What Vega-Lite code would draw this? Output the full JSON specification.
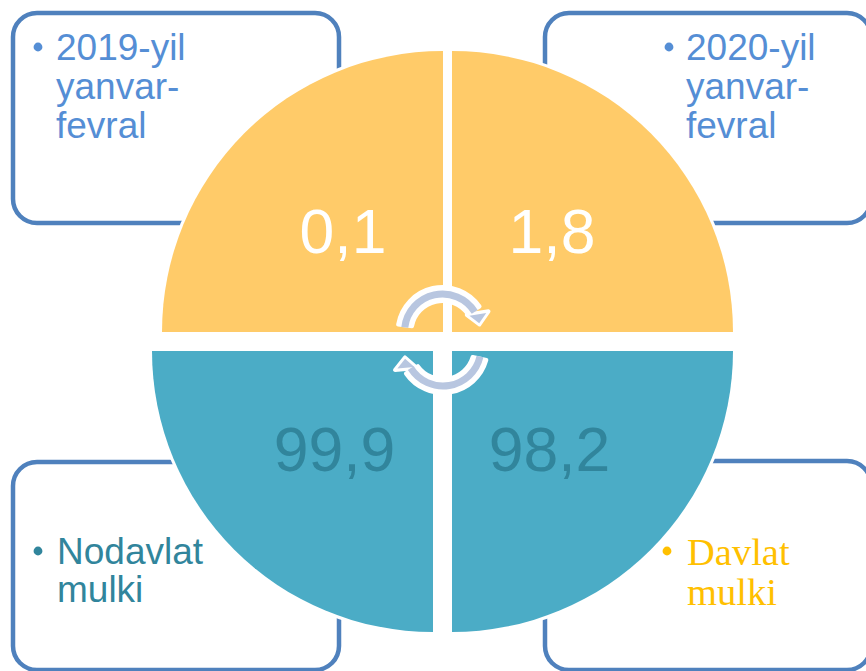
{
"$schema":"https://vega.github.io/schema/vega-lite/v6.json",
"width":866,"height":671,"padding":0,"autosize":{"type":"none"},
"background":"white",
"config":{"view":{"stroke":null}},
"datasets":{
"boxes":[
{"x":13,"x2":339,"y":13,"y2":223},
{"x":545,"x2":871,"y":13,"y2":223},
{"x":13,"x2":339,"y":462,"y2":670},
{"x":545,"x2":871,"y":461,"y2":670}],
"sectors":[
{"x":443,"y":332,"start":270,"end":360,"group":"davlatFill"},
{"x":452,"y":332,"start":0,"end":90,"group":"davlatFill"},
{"x":433,"y":351,"start":180,"end":270,"group":"nodavlatFill"},
{"x":452,"y":351,"start":90,"end":180,"group":"nodavlatFill"}],
"arrows":[
{"x":442.5,"y":332,"start":277,"end":418},
{"x":443,"y":348,"start":103,"end":238}],
"heads":[
{"x":478.5,"y":318.5,"dir":171},
{"x":405.5,"y":363.5,"dir":355}],
"sans":[
{"x":56,"y":60,"text":"2019-yil","group":"period"},
{"x":56,"y":99,"text":"yanvar-","group":"period"},
{"x":56,"y":138,"text":"fevral","group":"period"},
{"x":686,"y":60,"text":"2020-yil","group":"period"},
{"x":686,"y":99,"text":"yanvar-","group":"period"},
{"x":686,"y":138,"text":"fevral","group":"period"},
{"x":57,"y":564,"text":"Nodavlat","group":"nodavlat"},
{"x":57,"y":602,"text":"mulki","group":"nodavlat"}],
"serif":[
{"x":687,"y":565,"text":"Davlat","group":"davlat"},
{"x":687,"y":605,"text":"mulki","group":"davlat"}],
"bullets":[
{"x":38,"y":47,"group":"period"},
{"x":669,"y":47,"group":"period"},
{"x":38,"y":551,"group":"nodavlat"},
{"x":667,"y":551,"group":"davlat"}],
"values":[
{"x":343,"y":253,"text":"0,1","group":"top"},
{"x":552,"y":253,"text":"1,8","group":"top"},
{"x":334.5,"y":470.5,"text":"99,9","group":"bottom"},
{"x":549.5,"y":470.5,"text":"98,2","group":"bottom"}]
},
"encoding":{
"x":{"field":"x","type":"quantitative","axis":null,"scale":{"domain":[0,866],"nice":false,"zero":false}},
"y":{"field":"y","type":"quantitative","axis":null,"scale":{"domain":[0,671],"reverse":true,"nice":false,"zero":false}}
},
"layer":[
{"data":{"name":"boxes"},"mark":{"type":"rect","fill":"white","stroke":"#4F81BD","strokeWidth":4.5,"cornerRadius":24},
"encoding":{"x2":{"field":"x2"},"y2":{"field":"y2"}}},
{"data":{"name":"sectors"},"mark":{"type":"arc","radius":284,"radius2":0,"fill":"white"},
"encoding":{
"theta":{"field":"start","type":"quantitative","stack":false,"scale":{"domain":[0,360],"range":[0,6.28318]}},
"theta2":{"field":"end"}}},
{"data":{"name":"sectors"},"mark":{"type":"arc","radius":281,"radius2":0},
"encoding":{
"theta":{"field":"start","type":"quantitative","stack":false,"scale":{"domain":[0,360],"range":[0,6.28318]}},
"theta2":{"field":"end"},
"fill":{"field":"group","type":"nominal","legend":null,"scale":{"domain":["period","nodavlat","davlat","top","bottom","davlatFill","nodavlatFill"],"range":["#558ED5","#31859C","#FFC000","#FFFFFF","#31859C","#FFCB69","#4BACC6"]}}}},
{"data":{"name":"arrows"},"mark":{"type":"arc","radius":47,"radius2":29,"fill":"white","cornerRadius":2},
"encoding":{
"theta":{"field":"start","type":"quantitative","stack":false,"scale":{"domain":[0,360],"range":[0,6.28318]}},
"theta2":{"field":"end"}}},
{"data":{"name":"heads"},"mark":{"type":"point","shape":"M-1,0.5L1,0.5L0,-0.55Z","filled":true,"fill":"white","stroke":"white","strokeWidth":4,"strokeJoin":"round","size":484,"opacity":1},
"encoding":{"angle":{"field":"dir","type":"quantitative","scale":null}}},
{"data":{"name":"arrows"},"mark":{"type":"arc","radius":41.5,"radius2":34.5,"fill":"#B8C6E0"},
"encoding":{
"theta":{"field":"start","type":"quantitative","stack":false,"scale":{"domain":[0,360],"range":[0,6.28318]}},
"theta2":{"field":"end"}}},
{"data":{"name":"heads"},"mark":{"type":"point","shape":"M-1,0.5L1,0.5L0,-0.55Z","filled":true,"fill":"#B8C6E0","size":290,"opacity":1},
"encoding":{"angle":{"field":"dir","type":"quantitative","scale":null}}},
{"data":{"name":"bullets"},"mark":{"type":"point","shape":"circle","filled":true,"size":78,"opacity":1},
"encoding":{"fill":{"field":"group","type":"nominal","legend":null}}},
{"data":{"name":"sans"},"mark":{"type":"text","font":"Liberation Sans","fontSize":37,"align":"left","baseline":"alphabetic"},
"encoding":{"text":{"field":"text"},"fill":{"field":"group","type":"nominal","legend":null}}},
{"data":{"name":"serif"},"mark":{"type":"text","font":"Liberation Serif","fontSize":38.5,"align":"left","baseline":"alphabetic"},
"encoding":{"text":{"field":"text"},"fill":{"field":"group","type":"nominal","legend":null}}},
{"data":{"name":"values"},"mark":{"type":"text","font":"Liberation Sans","fontSize":62.5,"align":"center","baseline":"alphabetic"},
"encoding":{"text":{"field":"text"},"fill":{"field":"group","type":"nominal","legend":null}}}
]
}
